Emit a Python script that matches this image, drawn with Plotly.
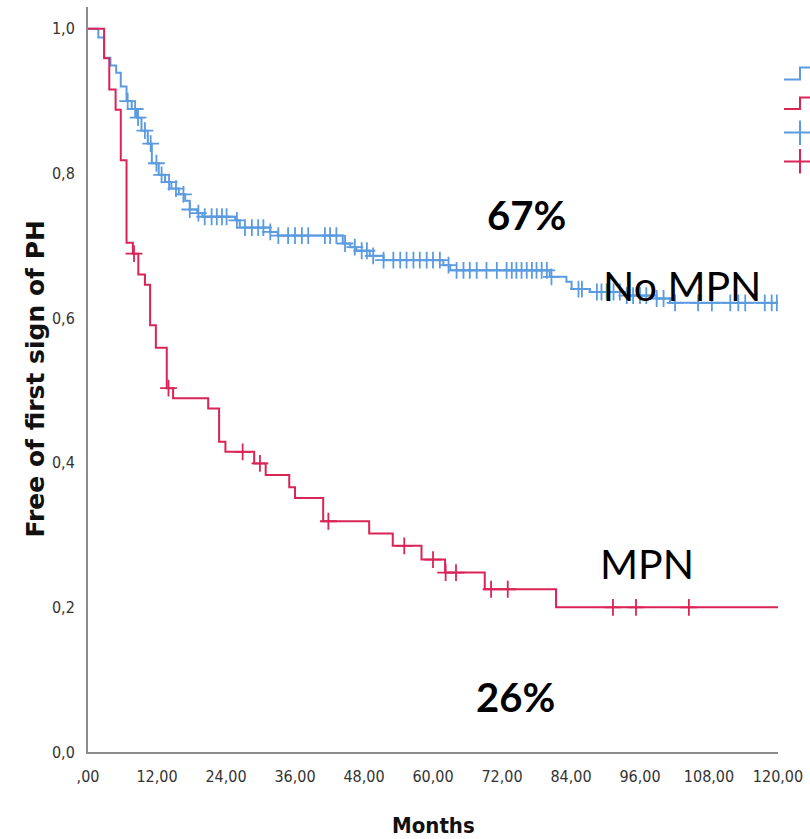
import plotly.graph_objects as go

# ---------------- data ----------------
# No MPN group: event times (months) and survival after each step
nompn_times = [1.8, 2.8, 3.9, 4.9, 5.7, 6.7, 7.6, 8.5, 9.3, 10.4, 11.1, 12.3, 13.4,
               14.5, 15.8, 16.9, 17.7, 19.0, 19.9, 25.6, 26.4, 31.7, 33.0, 44.3,
               45.6, 46.7, 49.0, 51.4, 61.8, 63.0, 80.3, 83.2, 84.1, 87.3, 93.7,
               98.9, 101.2]
nompn_surv = [0.988, 0.960, 0.949, 0.939, 0.920, 0.900, 0.889, 0.877, 0.859, 0.841,
              0.814, 0.798, 0.788, 0.779, 0.771, 0.762, 0.750, 0.745, 0.740, 0.735,
              0.725, 0.719, 0.714, 0.703, 0.698, 0.693, 0.686, 0.680, 0.673, 0.666,
              0.657, 0.650, 0.640, 0.636, 0.631, 0.627, 0.621]
nompn_censored = [6.9, 8.2, 8.7, 9.9, 10.9, 11.9, 12.8, 14.1, 15.3, 16.6, 17.7, 19.2,
                  20.3, 21.5, 22.4, 23.3, 24.1, 25.9, 27.3, 28.5, 29.6, 30.5, 31.7,
                  33.1, 34.8, 36.0, 37.2, 38.3, 41.2, 42.1, 43.2, 44.7, 46.4, 47.6,
                  48.5, 49.6, 51.4, 53.1, 54.3, 55.4, 56.6, 57.7, 58.9, 60.0, 61.2,
                  62.7, 64.1, 65.3, 66.4, 67.6, 69.3, 71.1, 72.8, 73.7, 74.5, 75.4,
                  76.3, 77.2, 78.0, 78.9, 79.8, 80.6, 85.3, 85.9, 88.5, 89.3, 90.2,
                  91.4, 92.5, 93.7, 94.8, 96.0, 97.1, 98.9, 100.1, 102.1, 106.1, 108.5,
                  111.7, 113.1, 114.3, 117.7, 118.9, 119.8]

# MPN group
mpn_times = [2.8, 3.7, 4.8, 5.7, 6.7, 7.8, 8.75, 9.9, 10.8, 11.8, 13.7, 14.8, 20.9,
             22.8, 23.9, 28.9, 30.9, 35.0, 36.0, 40.9, 48.9, 53.0, 58.0, 62.1, 69.0,
             81.4]
mpn_surv = [0.959, 0.916, 0.888, 0.818, 0.704, 0.689, 0.660, 0.646, 0.590, 0.559,
            0.503, 0.489, 0.475, 0.429, 0.415, 0.399, 0.383, 0.366, 0.351, 0.319,
            0.302, 0.285, 0.266, 0.248, 0.225, 0.200]
mpn_censored = [8.0, 14.0, 26.9, 29.9, 41.8, 55.0, 60.0, 62.2, 64.0, 70.1, 73.0,
                91.3, 95.3, 104.5]

follow_up_end = 120
x_tick_vals = [0, 12, 24, 36, 48, 60, 72, 84, 96, 108, 120]
x_tick_text = [",00", "12,00", "24,00", "36,00", "48,00", "60,00", "72,00",
               "84,00", "96,00", "108,00", "120,00"]
y_tick_vals = [0.0, 0.2, 0.4, 0.6, 0.8, 1.0]
y_tick_text = ["0,0", "0,2", "0,4", "0,6", "0,8", "1,0"]

BLUE = "#5B9BE0"
RED = "#DA2458"
NARROW = "DejaVu Sans Condensed, Liberation Sans Narrow, sans-serif"


def step_xy(times, surv, end):
    xs = [0] + list(times) + [end]
    ys = [1.0] + list(surv) + [surv[-1]]
    return xs, ys


def surv_at(t, times, surv):
    s = 1.0
    for ti, si in zip(times, surv):
        if ti <= t:
            s = si
    return s


fig = go.Figure()

for times, surv, cens, col, name in [
    (nompn_times, nompn_surv, nompn_censored, BLUE, "No MPN"),
    (mpn_times, mpn_surv, mpn_censored, RED, "MPN"),
]:
    xs, ys = step_xy(times, surv, follow_up_end)
    fig.add_trace(go.Scatter(x=xs, y=ys, mode="lines", line_shape="hv",
                             line=dict(color=col, width=2), name=name,
                             showlegend=False, hoverinfo="skip"))
    fig.add_trace(go.Scatter(x=cens, y=[surv_at(c, times, surv) for c in cens],
                             mode="markers", showlegend=False, name=name + " censored",
                             marker=dict(symbol="cross-thin", size=12,
                                         line=dict(color=col, width=1.8))))

fig.update_xaxes(range=[0, 120], tickvals=x_tick_vals, ticktext=x_tick_text,
                 showgrid=False, zeroline=False, showline=True, linecolor="#8c8c8c",
                 linewidth=2, ticks="", ticklabelstandoff=9,
                 tickfont=dict(family=NARROW, size=16, color="#333333"))
fig.update_yaxes(range=[0, 1.03], tickvals=y_tick_vals, ticktext=y_tick_text,
                 showgrid=False, zeroline=False, showline=True, linecolor="#8c8c8c",
                 linewidth=2, ticks="", ticklabelstandoff=8,
                 tickfont=dict(family=NARROW, size=16, color="#333333"))

annotations = [
    dict(text="Free of first sign of PH", xref="paper", yref="paper", x=0, y=0.5,
         xanchor="center", yanchor="middle", xshift=-53, textangle=-90,
         showarrow=False, font=dict(family="DejaVu Sans", size=25, color="#111111",
                                    weight="bold")),
    dict(text="Months", xref="paper", yref="paper", x=0.5, y=0, xanchor="center",
         yanchor="middle", yshift=-73, showarrow=False,
         font=dict(family=NARROW, size=22, color="#111111", weight="bold")),
    dict(text="67%", x=76.3, y=0.742, xref="x", yref="y", showarrow=False,
         font=dict(family="Lato", size=40, color="#000000", weight="bold")),
    dict(text="No MPN", x=103.3, y=0.645, xref="x", yref="y", showarrow=False,
         font=dict(family="Lato", size=41, color="#000000")),
    dict(text="MPN", x=97.2, y=0.261, xref="x", yref="y", showarrow=False,
         font=dict(family="Lato", size=41, color="#000000")),
    dict(text="26%", x=74.3, y=0.076, xref="x", yref="y", showarrow=False,
         font=dict(family="Lato", size=40, color="#000000", weight="bold")),
]

# cut-off legend glyphs at the right edge (decoration)
def py(p):  # pixel row -> paper y
    return (752 - p) / 745.0


def px(p):  # pixel column -> paper x
    return (p - 88) / 690.0


shapes = []
for low, high, col in [(79.5, 67.5, BLUE), (109, 97.5, RED)]:
    shapes.append(dict(type="path", xref="paper", yref="paper",
                       path=f"M {px(784)},{py(low)} L {px(800)},{py(low)} L {px(800)},{py(high)} L {px(812)},{py(high)}",
                       line=dict(color=col, width=2)))
for yc, y0, y1, col in [(132.5, 120.5, 145, BLUE), (161.5, 149, 173.5, RED)]:
    shapes.append(dict(type="line", xref="paper", yref="paper", x0=px(784), x1=px(812),
                       y0=py(yc), y1=py(yc), line=dict(color=col, width=2)))
    shapes.append(dict(type="line", xref="paper", yref="paper", x0=px(800), x1=px(800),
                       y0=py(y0), y1=py(y1), line=dict(color=col, width=2)))

fig.update_layout(width=810, height=839, margin=dict(l=88, r=32, t=7, b=87),
                  plot_bgcolor="white", paper_bgcolor="white",
                  annotations=annotations, shapes=shapes, showlegend=False)

fig.write_html("out.html")
